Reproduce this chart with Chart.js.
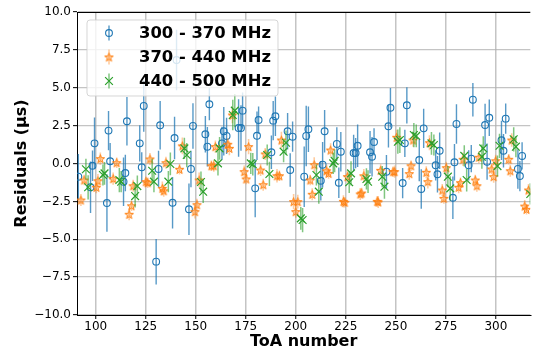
<!DOCTYPE html>
<html>
<head>
<meta charset="utf-8">
<script src="https://cdn.jsdelivr.net/npm/chart.js@4/dist/chart.umd.min.js"></script>
<style>
  body { margin: 0; background: #fff; }
  #wrap { width: 537px; height: 354px; }
</style>
</head>
<body>
<div id="wrap"><canvas id="resid" width="537" height="354"></canvas></div>
<script>
// ---------- data ----------
const bandLabels = ['300 - 370 MHz', '370 - 440 MHz', '440 - 500 MHz'];
const xTicks = [100, 125, 150, 175, 200, 225, 250, 275, 300];
const yTicks = [-10, -7.5, -5, -2.5, 0, 2.5, 5, 7.5, 10];

// 300 - 370 MHz
const blueX = [91.3, 97.4, 98.4, 99.4, 105.6, 106.4, 107.2, 113.9, 114.8, 115.6, 122.0, 123.0, 124.0, 130.2, 131.4, 132.2,
  138.4, 139.4, 140.4, 146.6, 147.6, 148.6, 154.8, 155.8, 156.8, 163.1, 164.0, 165.4, 171.4, 172.6, 173.4, 179.7, 180.6,
  181.4, 187.8, 188.7, 189.8, 195.9, 197.2, 198.4, 204.2, 205.2, 206.3, 212.5, 213.4, 214.4, 220.5, 221.5, 222.5, 228.9,
  229.9, 230.9, 237.1, 238.1, 239.1, 245.3, 246.3, 247.3, 253.4, 254.5, 255.5, 261.7, 262.7, 263.9, 269.9, 270.8, 271.9,
  278.5, 279.3, 280.3, 286.4, 287.7, 288.5, 294.6, 295.6, 296.7, 302.8, 303.8, 304.9, 311.0, 312.0, 313.1];
const blueY = [-0.87, -1.57, -0.15, 1.33, -2.61, 2.17, 0.15, -1.20, -0.63, 2.79, 1.33, -0.25, 3.80, -6.48, -0.36, 2.52,
  -2.59, 1.68, 6.83, -3.02, -0.36, 2.48, 1.93, 1.11, 3.91, 1.33, 2.13, 1.82, 2.34, 2.34, 3.49, -1.64, 1.83,
  2.87, 0.74, 2.83, 3.12, 2.13, -0.43, 1.77, -0.87, 1.82, 2.26, -1.14, -0.08, 2.13, 1.29, -1.27, 0.78, 0.69,
  0.69, 1.17, 0.74, 0.45, 1.42, -0.54, 2.46, 3.68, -1.29, 1.33, 3.84, 0.23, -1.68, 2.32, -0.12, -0.71, 0.84,
  -2.26, 0.08, 2.61, -0.12, 0.32, 4.21, 2.54, 0.12, 3.02, 1.53, 0.84, 2.96, -0.36, -0.83, 0.50];
const blueErr = [1.5, 1.7, 1.0, 1.7, 1.9, 1.3, 1.2, 1.6, 1.2, 1.6, 1.2, 1.0, 1.7, 1.5, 1.2, 1.6,
  1.7, 1.4, 2.0, 1.7, 1.2, 1.5, 1.2, 1.3, 1.05, 1.1, 1.6, 1.2, 1.9, 1.5, 1.2, 1.9, 1.6,
  0.9, 1.1, 1.3, 1.3, 1.2, 1.1, 1.0, 2.0, 2.0, 1.5, 1.3, 1.5, 1.4, 1.1, 1.0, 1.3, 1.2,
  1.0, 1.4, 1.4, 1.3, 0.9, 1.1, 1.4, 1.3, 1.0, 0.9, 1.2, 1.4, 1.3, 1.3, 1.0, 1.2, 1.2,
  1.4, 1.2, 1.3, 1.0, 0.9, 1.1, 1.4, 1.2, 1.2, 1.3, 1.1, 1.0, 1.3, 1.0, 0.9];

// 370 - 440 MHz
const orangeX = [92.6, 94.2, 100.3, 101.1, 102.3, 108.7, 110.5, 116.7, 117.9, 118.7, 125.1, 126.0, 127.1, 133.3, 134.0,
  135.1, 141.9, 143.3, 149.6, 150.6, 151.7, 157.8, 159.0, 159.8, 166.0, 166.8, 168.3, 174.2, 175.2, 176.4, 182.4, 183.7,
  184.7, 190.6, 191.8, 192.8, 198.9, 200.0, 201.0, 207.2, 208.2, 209.2, 215.4, 216.4, 217.4, 223.8, 224.5, 225.8, 232.2,
  232.9, 234.0, 240.7, 241.2, 242.4, 248.6, 249.4, 250.4, 256.7, 257.6, 258.6, 265.2, 266.0, 266.8, 273.2, 274.0, 275.2,
  281.4, 282.3, 283.6, 289.7, 290.5, 291.5, 297.9, 298.9, 299.9, 306.4, 307.2, 307.9, 314.4, 315.3, 316.3];
const orangeY = [-2.41, -1.09, -1.57, -1.14, 0.32, -1.00, 0.05, -3.35, -2.79, -1.47, -1.20, -1.27, 0.30, -1.64, -1.80,
  0.05, -0.38, 1.16, -3.18, -2.72, -1.09, -0.15, -0.15, 1.11, 1.27, 1.00, 3.20, -0.54, -1.02, 1.11, -0.43, -1.40,
  0.63, -0.81, -0.81, 1.55, -2.52, -3.18, -2.52, -1.09, -2.03, -0.08, -0.48, -0.65, 0.89, -2.50, -2.56, -0.87, -2.01,
  -1.95, -0.81, -2.50, -2.54, -0.45, -0.54, -0.54, 1.73, -0.67, -0.15, 1.55, -0.58, -1.20, 1.37, -1.75, -2.30, -0.28,
  -1.57, -1.27, 0.28, -1.09, -1.47, 0.41, -0.36, -0.87, 0.18, 0.28, -0.48, 1.55, -2.81, -3.02, -1.75];
const orangeErr = [0.4, 0.35, 0.4, 0.45, 0.4, 0.4, 0.35, 0.4, 0.35, 0.4, 0.35, 0.35, 0.4, 0.45, 0.4,
  0.4, 0.35, 0.55, 0.45, 0.4, 0.5, 0.35, 0.4, 0.4, 0.4, 0.45, 0.55, 0.4, 0.35, 0.5, 0.4, 0.4,
  0.4, 0.45, 0.35, 0.55, 0.5, 0.4, 0.45, 0.35, 0.4, 0.5, 0.4, 0.35, 0.45, 0.4, 0.35, 0.4, 0.4,
  0.35, 0.45, 0.35, 0.4, 0.4, 0.35, 0.4, 0.5, 0.4, 0.35, 0.45, 0.4, 0.45, 0.5, 0.4, 0.35, 0.4,
  0.4, 0.35, 0.45, 0.35, 0.4, 0.4, 0.35, 0.4, 0.4, 0.35, 0.4, 0.45, 0.4, 0.35, 0.4];

// 440 - 500 MHz
const greenX = [95.1, 96.2, 103.6, 104.4, 111.8, 112.7, 119.7, 120.8, 128.2, 129.1, 136.3, 137.3, 144.3, 145.5, 152.6,
  153.7, 161.1, 161.9, 168.5, 169.5, 177.5, 178.5, 185.7, 186.8, 193.9, 195.1, 202.5, 203.4, 210.3, 211.5, 218.7, 219.4,
  226.7, 227.6, 235.3, 236.1, 243.2, 244.3, 251.0, 252.0, 259.0, 260.2, 267.8, 269.0, 276.0, 277.2, 284.2, 285.4, 293.0,
  293.7, 300.8, 301.8, 308.9, 310.0, 317.2];
const greenY = [-0.38, -1.57, -0.76, -0.65, -1.09, -1.20, -2.15, -1.49, -0.48, -1.20, -1.20, -0.03, 1.00, 0.56, -1.22,
  -1.86, 0.01, 1.00, 3.20, 3.49, 0.01, -0.05, 0.56, -0.69, 0.78, 1.37, -3.62, -3.73, -0.76, -1.86, 0.01, 0.17,
  -1.24, -0.65, -1.02, -1.20, -0.87, -1.53, 1.44, 1.55, 1.88, 1.82, 1.33, 1.22, -0.87, -1.64, 0.50, -1.09, 0.45,
  1.00, -0.17, 1.17, 1.60, 1.11, -2.01];
const greenErr = [0.7, 0.8, 0.7, 0.75, 0.8, 0.7, 0.75, 0.7, 0.8, 0.7, 0.7, 0.75, 0.7, 0.8, 0.7,
  0.75, 0.8, 0.75, 1.0, 1.1, 0.7, 0.75, 0.7, 0.8, 0.7, 0.8, 0.75, 0.8, 0.7, 0.8, 0.7, 0.75,
  0.7, 0.8, 0.7, 0.75, 0.7, 0.8, 0.8, 0.85, 0.8, 0.75, 0.75, 0.7, 0.7, 0.8, 0.7, 0.75, 0.8,
  0.8, 0.7, 0.8, 0.8, 0.7, 0.7];

// ---------- marker helpers ----------
function makeStar(size, stroke, fill) {
  const c = document.createElement('canvas');
  c.width = c.height = size;
  const g = c.getContext('2d');
  const cx = size / 2, cy = size / 2 + 0.5, R = size / 2 - 1, r = R * 0.4;
  g.beginPath();
  for (let i = 0; i < 10; i++) {
    const rad = i % 2 ? r : R;
    const a = -Math.PI / 2 + i * Math.PI / 5;
    g.lineTo(cx + rad * Math.cos(a), cy + rad * Math.sin(a));
  }
  g.closePath();
  g.fillStyle = fill;
  g.fill();
  g.strokeStyle = stroke;
  g.lineWidth = 1;
  g.stroke();
  return c;
}
const starImg = makeStar(11, '#ff7f0e', 'rgba(255,127,14,0.3)');

function pts(xs, ys, es) {
  return xs.map((x, i) => ({ x: x, y: ys[i], e: es[i] }));
}

// error bars drawn just before each dataset's markers
const errorBars = {
  id: 'errorBars',
  beforeDatasetDraw(chart, args) {
    const ds = chart.data.datasets[args.index];
    const { ctx, chartArea: a, scales: { x, y } } = chart;
    ctx.save();
    ctx.beginPath();
    ctx.rect(a.left, a.top, a.right - a.left, a.bottom - a.top);
    ctx.clip();
    ctx.strokeStyle = ds.errColor;
    ctx.lineWidth = ds.errWidth;
    ds.data.forEach(p => {
      const px = x.getPixelForValue(p.x);
      ctx.beginPath();
      ctx.moveTo(px, y.getPixelForValue(p.y - p.e));
      ctx.lineTo(px, y.getPixelForValue(p.y + p.e));
      ctx.stroke();
    });
    ctx.restore();
  }
};

// top spine + matplotlib-style legend box
const frameAndLegend = {
  id: 'frameAndLegend',
  afterDraw(chart) {
    const { ctx, chartArea: a } = chart;
    ctx.save();
    ctx.strokeStyle = '#000';
    ctx.lineWidth = 1;
    ctx.beginPath();
    ctx.moveTo(a.left, a.top + 0.5);
    ctx.lineTo(a.right, a.top + 0.5);
    ctx.stroke();

    // legend
    const bx = 87, by = 20, bw = 191, bh = 76, rr = 3;
    ctx.beginPath();
    ctx.moveTo(bx + rr, by);
    ctx.arcTo(bx + bw, by, bx + bw, by + bh, rr);
    ctx.arcTo(bx + bw, by + bh, bx, by + bh, rr);
    ctx.arcTo(bx, by + bh, bx, by, rr);
    ctx.arcTo(bx, by, bx + bw, by, rr);
    ctx.closePath();
    ctx.fillStyle = 'rgba(255,255,255,0.8)';
    ctx.fill();
    ctx.strokeStyle = 'rgba(204,204,204,0.8)';
    ctx.stroke();

    const rows = [33, 57, 81];
    const mx = 109;
    chart.data.datasets.forEach((ds, i) => {
      const cy = rows[i];
      ctx.strokeStyle = ds.errColor;
      ctx.lineWidth = ds.errWidth;
      ctx.beginPath();
      ctx.moveTo(mx, cy - 7.5);
      ctx.lineTo(mx, cy + 7.5);
      ctx.stroke();
      ctx.strokeStyle = ds.borderColor;
      ctx.lineWidth = ds.pointBorderWidth;
      if (i === 0) {
        ctx.beginPath();
        ctx.arc(mx, cy, ds.pointRadius, 0, Math.PI * 2);
        ctx.stroke();
      } else if (i === 1) {
        ctx.drawImage(starImg, mx - 5.5, cy - 5.5);
      } else {
        const d = ds.pointRadius * Math.SQRT1_2;
        ctx.beginPath();
        ctx.moveTo(mx - d, cy - d); ctx.lineTo(mx + d, cy + d);
        ctx.moveTo(mx - d, cy + d); ctx.lineTo(mx + d, cy - d);
        ctx.stroke();
      }
      ctx.fillStyle = '#000';
      ctx.font = 'bold 16.4px "DejaVu Sans"';
      ctx.textBaseline = 'middle';
      ctx.fillText(ds.label, 139, cy + 1);
    });
    ctx.restore();
  }
};

Chart.defaults.font.family = '"DejaVu Sans", sans-serif';
Chart.defaults.color = '#000';

const gridCol = 'rgba(176,176,176,0.75)';

new Chart(document.getElementById('resid'), {
  type: 'scatter',
  data: {
    datasets: [
      {
        label: bandLabels[0],
        data: pts(blueX, blueY, blueErr),
        pointStyle: 'circle',
        pointRadius: 3.4,
        pointBorderWidth: 1.1,
        borderColor: '#1f77b4',
        backgroundColor: 'rgba(0,0,0,0)',
        errColor: 'rgba(31,119,180,0.75)',
        errWidth: 1.4,
        order: 3
      },
      {
        label: bandLabels[1],
        data: pts(orangeX, orangeY, orangeErr),
        pointStyle: starImg,
        pointRadius: 5,
        pointBorderWidth: 1,
        borderColor: '#ff7f0e',
        backgroundColor: 'rgba(255,127,14,0.3)',
        errColor: 'rgba(255,127,14,0.4)',
        errWidth: 1.6,
        order: 2
      },
      {
        label: bandLabels[2],
        data: pts(greenX, greenY, greenErr),
        pointStyle: 'crossRot',
        pointRadius: 5.5,
        pointBorderWidth: 1.2,
        borderColor: '#2ca02c',
        backgroundColor: '#2ca02c',
        errColor: 'rgba(44,160,44,0.6)',
        errWidth: 1.5,
        order: 1
      }
    ]
  },
  options: {
    responsive: false,
    animation: false,
    layout: { padding: { top: 12, right: 0, left: 0, bottom: 0 } },
    plugins: { legend: { display: false }, tooltip: { enabled: false } },
    scales: {
      x: {
        type: 'linear',
        min: 90.64,
        max: 317.2,
        afterBuildTicks: s => { s.ticks = xTicks.map(v => ({ value: v })); },
        afterFit: s => { s.height = 39; },
        ticks: { font: { size: 12 }, padding: 1, maxRotation: 0, color: '#000' },
        grid: { color: gridCol, lineWidth: 1.5, tickColor: '#000', tickLength: 4, tickWidth: 1 },
        border: { color: '#000', width: 1 },
        title: { display: true, text: 'ToA number', font: { size: 16, weight: 'bold' }, padding: { top: 0, bottom: 2.5 } }
      },
      y: {
        min: -10,
        max: 10,
        afterBuildTicks: s => { s.ticks = yTicks.map(v => ({ value: v })); },
        afterFit: s => { s.width = 77; },
        ticks: {
          font: { size: 12 }, padding: 2, color: '#000',
          callback: v => v.toFixed(1).replace('-', '\u2212')
        },
        grid: { color: gridCol, lineWidth: 1.3, tickColor: '#000', tickLength: 4, tickWidth: 1 },
        border: { color: '#000', width: 1 },
        title: { display: true, text: 'Residuals (\u03bcs)', font: { size: 16, weight: 'bold' }, padding: { top: 12.4, bottom: 0 } }
      }
    }
  },
  plugins: [errorBars, frameAndLegend]
});
</script>
</body>
</html>
